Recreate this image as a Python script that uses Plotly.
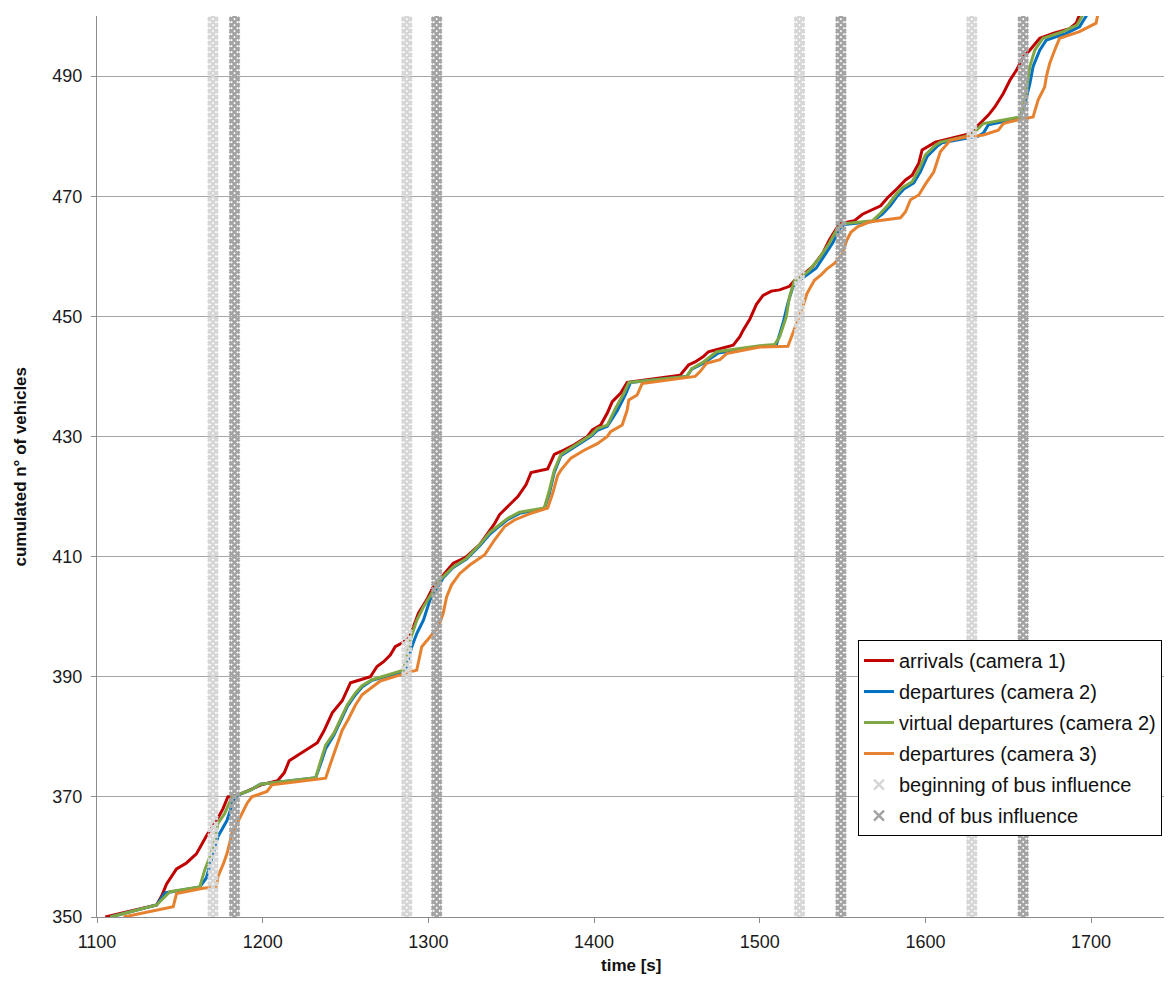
import plotly.graph_objects as go

# cumulative vehicle counts: time [s] / count
arr_t = [1105, 1120, 1136, 1139, 1142, 1148, 1154, 1160, 1166, 1172,
         1176, 1179, 1185, 1191, 1199, 1209, 1213, 1216, 1233, 1237,
         1242, 1248, 1253, 1259, 1265, 1269, 1273, 1277, 1280, 1284,
         1288, 1291, 1294, 1299, 1303, 1308, 1315, 1319, 1323, 1331,
         1336, 1340, 1343, 1349, 1354, 1359, 1362, 1372, 1376, 1380,
         1388, 1396, 1399, 1404, 1408, 1411, 1416, 1420, 1452, 1457,
         1461, 1466, 1469, 1484, 1488, 1490, 1494, 1498, 1502, 1507,
         1512, 1518, 1521, 1526, 1532, 1538, 1542, 1546, 1548, 1557,
         1562, 1573, 1577, 1582, 1588, 1592, 1596, 1598, 1606, 1628,
         1631, 1634, 1638, 1642, 1647, 1651, 1655, 1659, 1663, 1669,
         1677, 1687, 1691, 1693]
arr_n = [350, 351, 352, 353.5, 355.5, 358, 359, 360.5, 363.5, 366,
         368, 370, 370.3, 371, 372, 372.7, 374, 376, 379, 381,
         384, 386, 389, 389.5, 390, 391.7, 392.5, 393.6, 395, 395.6,
         396.4, 398.3, 400.6, 402.8, 405, 406.6, 408.9, 409.4, 410, 412,
         414, 415.5, 417, 418.6, 420, 422, 424, 424.6, 427, 427.5,
         428.6, 430, 431.1, 431.9, 433.9, 435.8, 437.2, 439, 440.2, 441.9,
         442.4, 443.3, 444.1, 445.2, 446.6, 447.7, 449.5, 452, 453.5, 454.2,
         454.4, 455, 456, 456.9, 458.3, 460.5, 462.7, 464.5, 465.4, 465.9,
         467, 468.4, 469.7, 471, 472.7, 473.5, 475.5, 477.7, 479, 480.5,
         481.6, 482.4, 483.5, 484.9, 487.1, 489.3, 491, 493.2, 494.3, 496.3,
         497.1, 497.9, 498.8, 500.2]

dep2_t = [1108, 1136, 1141, 1162, 1166, 1169, 1173, 1178.5, 1182.5, 1185,
          1192.5, 1198.6, 1216.7, 1232, 1235, 1238, 1243, 1247, 1251, 1256,
          1260, 1266, 1286, 1290, 1293, 1297, 1301, 1305, 1309, 1315,
          1323, 1331, 1337, 1343, 1348, 1355, 1364, 1370, 1373, 1376,
          1380, 1398, 1402, 1408, 1414, 1419, 1422, 1456, 1459, 1466,
          1475, 1500, 1510, 1514, 1517, 1520, 1524, 1534, 1544, 1548,
          1551, 1568, 1574, 1579, 1583, 1587, 1593, 1597, 1601, 1607,
          1610, 1632, 1635, 1638, 1657, 1660, 1663, 1665, 1669, 1673,
          1685, 1693, 1697.5]
dep2_n = [350, 352, 354, 355, 356.5, 359.5, 363.4, 366.1, 369.5, 370.3,
          371.1, 372.1, 372.7, 373.2, 375.5, 378, 380.3, 382.6, 385, 387,
          388.3, 389.4, 390.9, 395, 397.2, 399.4, 402.8, 404.7, 406.5, 408.2,
          409.6, 411.8, 413.7, 415.1, 416.2, 417.2, 417.7, 418, 420.5, 424,
          426.8, 430, 431, 431.7, 434.3, 437, 439, 440, 441.2, 442.2,
          443.9, 445, 445.2, 448.8, 452.2, 454.9, 456, 458, 462.2, 464.5,
          465.3, 465.8, 467, 468.5, 470, 471.2, 472.2, 474.1, 476.6, 478.3,
          478.9, 480, 480.5, 481.9, 483, 485.4, 488.7, 491.6, 494.3, 496,
          497.1, 498.2, 500.2]

virt_t = [1108, 1136, 1144, 1162, 1165, 1168, 1171, 1173, 1177, 1181.5,
          1192.5, 1198.6, 1216.7, 1232, 1235, 1238, 1243, 1247, 1251, 1256,
          1260, 1266, 1285, 1289, 1293, 1297, 1303, 1307, 1315, 1323,
          1331, 1337, 1343, 1348, 1355, 1364, 1370, 1373, 1376, 1380,
          1398, 1402, 1408, 1413, 1418, 1421, 1456, 1459, 1466, 1474,
          1500, 1509, 1512, 1516, 1518, 1521, 1524, 1530, 1536, 1542,
          1547, 1550, 1568, 1573, 1578, 1582, 1586, 1592, 1596, 1600,
          1606, 1609, 1628, 1635, 1657, 1659, 1661, 1663, 1666, 1671,
          1683, 1691.5, 1695]
virt_n = [350, 352, 354.2, 355, 357.8, 360, 362.8, 365.6, 367.2, 370,
          371.1, 372.1, 372.7, 373.2, 376, 378.6, 380.6, 383, 385.3, 387.3,
          388.5, 389.5, 391.1, 396.1, 399.4, 401.6, 404.4, 406.1, 408.3, 409.7,
          412, 414, 415.3, 416.4, 417.4, 417.8, 418.1, 421, 424.4, 427,
          430.2, 431.3, 431.9, 434.7, 437.2, 439, 440, 441.3, 442.4, 444.1,
          445.1, 445.3, 446.6, 449.9, 453.3, 456, 456.3, 457.7, 459.7, 462.2,
          464.7, 465.4, 465.9, 467.2, 468.7, 470.2, 471.4, 472.4, 474.4, 476.9,
          478.5, 479, 480.2, 482.1, 483.2, 484.9, 487.7, 491.6, 494.3, 496.3,
          497.4, 498.5, 500.2]

dep3_t = [1116, 1146, 1148, 1164, 1172, 1173, 1176.5, 1178.5, 1181.5, 1184.5,
          1187.5, 1190.5, 1193.5, 1202.6, 1205.6, 1216.7, 1238, 1241, 1245, 1248,
          1252, 1256, 1260, 1265, 1271, 1283, 1287, 1293, 1296, 1301,
          1306, 1309, 1311, 1314, 1319, 1325, 1334, 1340, 1346, 1352,
          1361, 1372, 1375, 1378, 1380, 1386, 1394, 1402, 1408, 1410,
          1417, 1420, 1421, 1426, 1429, 1461, 1464, 1468, 1476, 1480,
          1500, 1517, 1520, 1523, 1526, 1528.5, 1533, 1537, 1541, 1545,
          1549.5, 1552.6, 1555, 1559, 1566, 1585, 1588, 1591, 1596, 1600,
          1605, 1609, 1615, 1625, 1635, 1644, 1647, 1651, 1665, 1668,
          1672, 1673, 1675, 1678, 1681, 1693, 1703, 1704]
dep3_n = [350, 351.7, 353.9, 354.8, 355, 356.7, 359, 360.6, 363.9, 365.6,
          367.3, 368.9, 370, 370.9, 372, 372.4, 373.1, 375.6, 378.6, 381.1,
          383.1, 385.3, 387, 388.1, 389.3, 390.3, 390.6, 391.1, 395, 396.7,
          398.3, 400.6, 403.3, 405.3, 407.2, 408.6, 410.3, 412.8, 415, 416.1,
          417.1, 418.1, 420.5, 423.5, 424.4, 426.4, 427.7, 428.8, 430, 430.8,
          431.9, 434.4, 436.1, 436.9, 438.8, 440, 440.8, 442.2, 442.8, 443.8,
          444.9, 445, 447.2, 449.1, 451.6, 453.8, 456, 456.9, 458, 458.8,
          460.2, 462.7, 464, 464.9, 465.7, 466.4, 467.4, 469.4, 470.2, 472,
          474, 477.4, 479.3, 479.9, 480.2, 481, 482.1, 482.4, 483.2, 486,
          488.2, 489.9, 492.1, 494.3, 496.3, 497.4, 498.8, 500.2]

# bus influence windows [s]
bus_begin = [1170, 1287, 1524, 1628]
bus_end = [1183, 1305, 1549, 1659]
counts = list(range(350, 501))  # one marker per vehicle count

series = [
    ("arrivals (camera 1)", arr_t, arr_n, "#C00000"),
    ("departures (camera 2)", dep2_t, dep2_n, "#0070C0"),
    ("virtual departures (camera 2)", virt_t, virt_n, "#7FA744"),
    ("departures (camera 3)", dep3_t, dep3_n, "#E6822F"),
]

fig = go.Figure()
for name, t, n, col in series:
    assert len(t) == len(n), name
    fig.add_trace(go.Scatter(x=t, y=n, mode="lines", name=name, legendgroup=name,
                             line=dict(color=col, width=3)))

for name, times, col in [("beginning of bus influence", bus_begin, "#D6D6D6"),
                         ("end of bus influence", bus_end, "#A3A3A3")]:
    xs, ys = [], []
    for tb in times:
        xs += [tb] * len(counts) + [None]
        ys += counts + [None]
    fig.add_trace(go.Scatter(x=xs, y=ys, mode="markers", name=name, legendgroup=name,
                             marker=dict(symbol="x-thin", size=10, color=col,
                                         line=dict(color=col, width=2.5))))

# figure sized so that page body margins (8px) do not cause scrollbars
fig.update_layout(
    width=1156, height=968,
    margin=dict(l=89, r=0, t=8, b=59),
    plot_bgcolor="white", paper_bgcolor="white",
    font=dict(family="Liberation Sans, Arial", size=18, color="#1a1a1a"),
    showlegend=True,
    legend=dict(x=0.7132, y=0.3074, xanchor="left", yanchor="top",
                bgcolor="white", bordercolor="black", borderwidth=1,
                font=dict(size=20, color="#111"), tracegroupgap=2),
)
fig.update_xaxes(range=[1100, 1744], tick0=1100, dtick=100, showgrid=False,
                 showline=True, linecolor="#8c8c8c", ticks="outside", ticklen=5,
                 tickcolor="#8c8c8c", zeroline=False, automargin=False,
                 ticklabelstandoff=3)
fig.update_yaxes(range=[350, 500], tick0=350, dtick=20, showgrid=True,
                 gridcolor="#a6a6a6", gridwidth=1, showline=True, linecolor="#8c8c8c",
                 ticks="outside", ticklen=5, tickcolor="#8c8c8c", zeroline=False,
                 automargin=False, ticklabelstandoff=5)

# axis titles
fig.add_annotation(text="<b>time [s]</b>", xref="paper", yref="paper", x=0.5, y=0,
                   xanchor="center", yanchor="middle", yshift=-48, showarrow=False,
                   font=dict(size=17, color="#111"))
fig.add_annotation(text="<b>cumulated n° of vehicles</b>", xref="paper", yref="paper",
                   x=0, y=0.5, xanchor="center", yanchor="middle", xshift=-77,
                   textangle=-90, showarrow=False, font=dict(size=17, color="#111"))

fig.write_html("out.html")
